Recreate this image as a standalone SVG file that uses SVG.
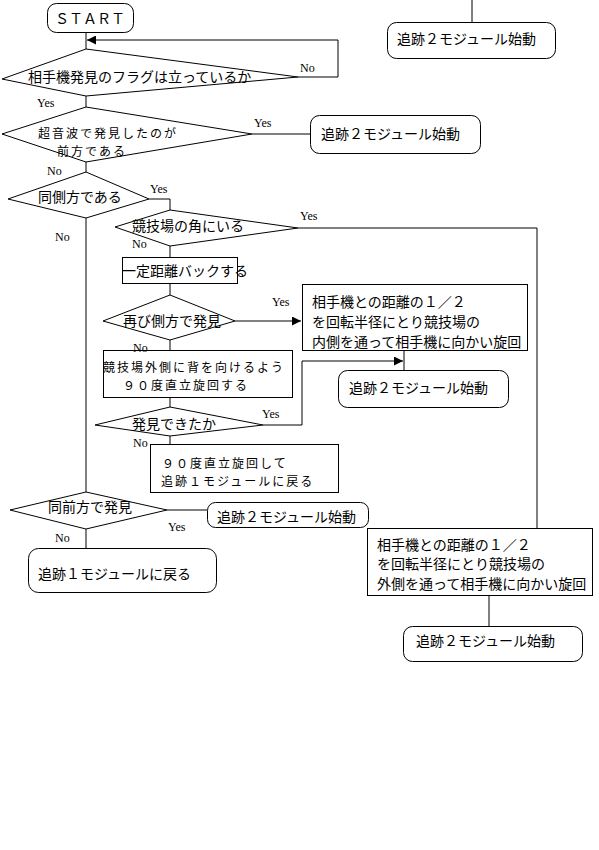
<svg xmlns="http://www.w3.org/2000/svg" width="599" height="850" viewBox="0 0 599 850">
<style>
.s{fill:#fff;stroke:#000;stroke-width:1}
.l{fill:none;stroke:#000;stroke-width:1}
.t{font-family:"Noto Sans CJK JP","Noto Sans CJK SC",sans-serif;font-size:14px;fill:#000;dominant-baseline:central}
.m{font-size:12px;letter-spacing:2px}
.y{font-family:"Liberation Serif",serif;font-size:12px;fill:#000;dominant-baseline:central}
</style>
<defs>
<marker id="a" viewBox="0 0 10 10" refX="10" refY="5" markerWidth="9" markerHeight="9" markerUnits="userSpaceOnUse" orient="auto">
<path d="M0,0 L10,5 L0,10 z" fill="#000"/>
</marker>
</defs>
<rect width="599" height="850" fill="#fff"/>
<g id="connectors">
<path class="l" d="M86,33 V49"/>
<path class="l" d="M298,77 H338 V40 H87" marker-end="url(#a)"/>
<path class="l" d="M86,96 V107"/>
<path class="l" d="M252,134 H310"/>
<path class="l" d="M86,162 V172"/>
<path class="l" d="M149,199 H170 V210"/>
<path class="l" d="M86,218 V492"/>
<path class="l" d="M298,228 H537 V528"/>
<path class="l" d="M170,246 V257"/>
<path class="l" d="M170,283 V295"/>
<path class="l" d="M235,321 H301" marker-end="url(#a)"/>
<path class="l" d="M170,340 V350"/>
<path class="l" d="M404,350 V370"/>
<path class="l" d="M170,397 V407"/>
<path class="l" d="M263,425 H302 V361 H403" marker-end="url(#a)"/>
<path class="l" d="M170,436 V444"/>
<path class="l" d="M167,510 H207"/>
<path class="l" d="M86,529 V548"/>
<path class="l" d="M489,595 V626"/>
<path class="l" d="M472,0 V22"/>
</g>
<g id="start">
<rect class="s" x="47.5" y="3.5" width="86" height="29" rx="9"/>
<text class="t" x="90" y="18" text-anchor="middle">ＳＴＡＲＴ</text>
</g>
<g id="d1">
<polygon class="s" points="86,49 298,77 86,96 2,79"/>
<text class="t" x="28" y="76">相手機発見のフラグは立っているか</text>
</g>
<g id="d2">
<polygon class="s" points="86,107 252,134 86,162 2,134"/>
<text class="t m" x="38" y="132">超音波で発見したのが</text>
<text class="t m" x="57" y="150">前方である</text>
</g>
<g id="r1">
<rect class="s" x="310.5" y="115.5" width="170" height="38" rx="9"/>
<text class="t" x="321" y="133">追跡２モジュール始動</text>
</g>
<g id="d3">
<polygon class="s" points="86,172 149,199 86,218 8,199"/>
<text class="t" x="38" y="196">同側方である</text>
</g>
<g id="d4">
<polygon class="s" points="170,210 298,228 170,246 115,227"/>
<text class="t" x="132" y="225">競技場の角にいる</text>
</g>
<g id="b1">
<rect class="s" x="122.5" y="257.5" width="115" height="26"/>
<text class="t" x="122" y="270">一定距離バックする</text>
</g>
<g id="d5">
<polygon class="s" points="170,295 235,321 170,340 103,321"/>
<text class="t" x="123" y="320">再び側方で発見</text>
</g>
<g id="b2">
<rect class="s" x="302.5" y="284.5" width="225" height="66"/>
<text class="t" x="312" y="301">相手機との距離の１／２</text>
<text class="t" x="312" y="321">を回転半径にとり競技場の</text>
<text class="t" x="312" y="341">内側を通って相手機に向かい旋回</text>
</g>
<g id="r2">
<rect class="s" x="338.5" y="370.5" width="170" height="37" rx="9"/>
<text class="t" x="349" y="387">追跡２モジュール始動</text>
</g>
<g id="b3">
<rect class="s" x="103.5" y="350.5" width="189" height="47"/>
<text class="t m" x="103" y="366">競技場外側に背を向けるよう</text>
<text class="t m" x="123" y="384">９０度直立旋回する</text>
</g>
<g id="d6">
<polygon class="s" points="170,407 263,425 170,436 95,425"/>
<text class="t" x="132" y="423">発見できたか</text>
</g>
<g id="b4">
<rect class="s" x="150.5" y="444.5" width="188" height="48"/>
<text class="t m" x="162" y="462">９０度直立旋回して</text>
<text class="t m" x="161" y="480">追跡１モジュールに戻る</text>
</g>
<g id="d7">
<polygon class="s" points="86,492 167,510 86,529 10,510"/>
<text class="t" x="48" y="506">同前方で発見</text>
</g>
<g id="r3">
<rect class="s" x="207.5" y="502.5" width="161" height="25" rx="8"/>
<text class="t" x="217" y="516">追跡２モジュール始動</text>
</g>
<g id="r4">
<rect class="s" x="28.5" y="548.5" width="188" height="44" rx="10"/>
<text class="t" x="38" y="573">追跡１モジュールに戻る</text>
</g>
<g id="b5">
<rect class="s" x="367.5" y="528.5" width="225" height="67"/>
<text class="t" x="377" y="544">相手機との距離の１／２</text>
<text class="t" x="377" y="563">を回転半径にとり競技場の</text>
<text class="t" x="377" y="583">外側を通って相手機に向かい旋回</text>
</g>
<g id="r5">
<rect class="s" x="403.5" y="626.5" width="179" height="35" rx="9"/>
<text class="t" x="416" y="640">追跡２モジュール始動</text>
</g>
<g id="r6">
<rect class="s" x="387.5" y="22.5" width="168" height="36" rx="9"/>
<text class="t" x="397" y="38">追跡２モジュール始動</text>
</g>
<g id="labels">
<text class="y" x="300" y="68">No</text>
<text class="y" x="37" y="103">Yes</text>
<text class="y" x="254" y="123">Yes</text>
<text class="y" x="47" y="171">No</text>
<text class="y" x="150" y="189">Yes</text>
<text class="y" x="55" y="237">No</text>
<text class="y" x="300" y="216">Yes</text>
<text class="y" x="132" y="244">No</text>
<text class="y" x="272" y="302">Yes</text>
<text class="y" x="133" y="348">No</text>
<text class="y" x="262" y="414">Yes</text>
<text class="y" x="133" y="443">No</text>
<text class="y" x="168" y="527">Yes</text>
<text class="y" x="55" y="538">No</text>
</g>
</svg>
